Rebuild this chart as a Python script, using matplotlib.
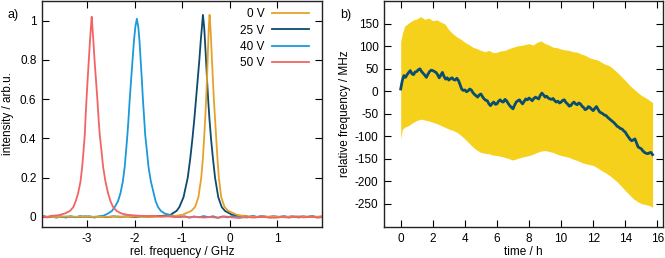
import numpy as np
import matplotlib
matplotlib.use("Agg")
import matplotlib.pyplot as plt
from matplotlib.ticker import FormatStrFormatter

plt.rcParams['font.family'] = ['Liberation Sans', 'DejaVu Sans']
plt.rcParams['font.size'] = 8.5
plt.rcParams['axes.unicode_minus'] = False

# ---- panel a) spectra ----
labels = ["0 V", "25 V", "40 V", "50 V"]
colors = ["#e5a22a", "#0c4a6e", "#1a9ad8", "#f26464"]

x_0V = [-3.95, -3.7, -3.45, -3.2, -2.95, -2.7, -2.45, -2.2, -1.95, -1.7, -1.45, -1.2,
        -1.0, -0.81, -0.73, -0.66, -0.60, -0.565, -0.54, -0.517, -0.497, -0.48, -0.465,
        -0.452, -0.44, -0.425, -0.408, -0.393, -0.375, -0.355, -0.335, -0.31, -0.285,
        -0.26, -0.23, -0.18, -0.11, -0.03, 0.15, 0.3, 0.5, 0.7, 0.9, 1.1, 1.3, 1.5, 1.7, 1.95]
y_0V = [0.002, -0.001, 0.002, 0.0, 0.001, -0.001, 0.001, 0.0, 0.002, -0.001, 0.001, 0.003,
        0.01, 0.03, 0.05, 0.1, 0.2, 0.3, 0.4, 0.5, 0.6, 0.7, 0.8,
        0.9, 0.97, 1.03, 0.97, 0.9, 0.8, 0.7, 0.6, 0.5, 0.4,
        0.3, 0.2, 0.1, 0.05, 0.03, 0.01, 0.004, -0.001, 0.002, 0.0, 0.001, -0.001, 0.002, 0.0, 0.001]

x_25V = [-3.95, -3.8, -3.65, -3.5, -3.35, -3.2, -3.05, -2.9, -2.75, -2.6, -2.45, -2.3, -2.15,
         -2.0, -1.85, -1.7, -1.55, -1.4, -1.25, -1.12, -1.06, -0.973, -0.884, -0.83, -0.785,
         -0.745, -0.71, -0.675, -0.64, -0.61, -0.585, -0.565, -0.54, -0.522, -0.50, -0.478,
         -0.455, -0.428, -0.395, -0.355, -0.31, -0.242, -0.17, -0.10, 0.05, 0.2,
         0.3, 0.4, 0.5, 0.6, 0.7, 0.8, 0.9, 1.0, 1.1, 1.2, 1.3, 1.4, 1.5, 1.6, 1.7, 1.8, 1.95]
y_25V = [0.003, -0.002, 0.002, -0.001, 0.001, -0.002, 0.002, -0.001, 0.001, -0.002, 0.002, 0.0, 0.002,
         -0.001, 0.002, 0.0, 0.003, 0.005, 0.01, 0.03, 0.05, 0.1, 0.2, 0.3, 0.4,
         0.5, 0.6, 0.7, 0.8, 0.9, 0.97, 1.03, 0.97, 0.9, 0.8, 0.7,
         0.6, 0.5, 0.4, 0.3, 0.2, 0.1, 0.05, 0.03, 0.01, 0.004,
         0.005, 0.0, 0.003, -0.002, 0.002, -0.001, 0.002, -0.002, 0.001, -0.001, 0.002, -0.002, 0.001, -0.001, 0.002, -0.001, 0.001]

x_40V = [-3.95, -3.85, -3.75, -3.65, -3.55, -3.45, -3.35, -3.25, -3.15, -3.05, -2.95, -2.85,
         -2.75, -2.65, -2.56, -2.48, -2.42, -2.35, -2.30, -2.25, -2.21, -2.18, -2.153,
         -2.13, -2.106, -2.075, -2.045, -2.015, -1.985, -1.955, -1.925, -1.90, -1.875,
         -1.85, -1.826, -1.80, -1.78, -1.745, -1.71, -1.66, -1.60, -1.56, -1.51, -1.45,
         -1.37, -1.25, -1.15, -1.05, -0.95,
         -0.85, -0.75, -0.65, -0.55, -0.45, -0.35, -0.25, -0.15, -0.05, 0.05, 0.15, 0.25,
         0.35, 0.45, 0.55, 0.65, 0.75, 0.85, 0.95, 1.05, 1.15, 1.25, 1.35, 1.45, 1.55,
         1.65, 1.75, 1.85, 1.95]
y_40V = [0.006, -0.003, 0.004, -0.005, 0.003, -0.004, 0.002, -0.003, 0.004, -0.002, 0.003, -0.004,
         0.002, 0.006, 0.017, 0.03, 0.05, 0.08, 0.12, 0.18, 0.255, 0.34, 0.42,
         0.5, 0.594, 0.7, 0.8, 0.9, 0.97, 1.01, 0.97, 0.9, 0.8,
         0.7, 0.594, 0.5, 0.42, 0.34, 0.255, 0.18, 0.12, 0.08, 0.05, 0.03,
         0.017, 0.009, 0.004, -0.002, 0.003,
         -0.004, 0.002, -0.003, 0.004, -0.002, 0.003, -0.005, 0.002, -0.003, 0.004, -0.002, 0.003,
         -0.004, 0.002, -0.003, 0.004, 0.0, -0.004, 0.003, -0.002, 0.004, -0.003, 0.002, -0.004, 0.003,
         -0.002, 0.004, -0.003, 0.002]

x_50V = [-3.95, -3.85, -3.75, -3.6, -3.47, -3.36, -3.29, -3.24, -3.19, -3.14, -3.105, -3.075,
         -3.05, -3.035, -3.015, -2.99, -2.965, -2.94, -2.92, -2.905, -2.89, -2.87, -2.845,
         -2.815, -2.784, -2.76, -2.736, -2.70, -2.665, -2.615, -2.56, -2.51, -2.455, -2.38,
         -2.28, -2.15, -1.9, -1.75, -1.6, -1.45, -1.3, -1.15, -1.0, -0.85, -0.7, -0.55, -0.4,
         -0.25, -0.1, 0.05, 0.2, 0.35, 0.5, 0.65, 0.8, 0.95, 1.1, 1.25, 1.4, 1.55, 1.7, 1.85, 1.95]
y_50V = [0.004, -0.002, 0.005, 0.008, 0.017, 0.03, 0.05, 0.08, 0.12, 0.18, 0.255, 0.34,
         0.42, 0.5, 0.594, 0.7, 0.8, 0.9, 0.97, 1.02, 0.97, 0.9, 0.8,
         0.7, 0.594, 0.5, 0.42, 0.34, 0.255, 0.18, 0.12, 0.08, 0.05, 0.03,
         0.017, 0.01, 0.005, 0.004, 0.005, 0.001, 0.003, -0.002, 0.001, -0.003, 0.0, -0.004, -0.001,
         -0.005, 0.002, -0.003, -0.006, -0.001, -0.004, 0.001, -0.003, -0.005, -0.001, -0.004, 0.002, -0.003, 0.001, -0.004, -0.001]

# ---- panel b) frequency drift, one value every 0.1 h ----
drift = [5, 24, 35, 31, 37, 42, 46, 39, 37, 43,
         44, 48, 50, 44, 40, 36, 31, 38, 44, 47,
         46, 44, 42, 37, 30, 36, 42, 33, 27, 30,
         25, 28, 30, 26, 25, 29, 24, 15, 5, 2,
         3, -1, 1, 5, 3, -3, -7, -10, -13, -8,
         -6, -12, -17, -20, -21, -28, -32, -27, -24, -29,
         -28, -22, -19, -23, -24, -18, -21, -27, -32, -36,
         -39, -31, -24, -21, -19, -24, -28, -22, -17, -19,
         -15, -18, -21, -16, -13, -15, -17, -9, -4, -8,
         -13, -11, -15, -17, -18, -16, -21, -24, -22, -26,
         -24, -20, -19, -25, -28, -33, -32, -27, -24, -28,
         -30, -26, -28, -33, -36, -41, -39, -34, -36, -40,
         -43, -38, -34, -40, -46, -48, -50, -53, -54, -58,
         -61, -64, -67, -70, -74, -78, -80, -83, -84, -88,
         -91, -97, -102, -107, -110, -108, -106, -115, -124, -126,
         -128, -133, -136, -138, -139, -137, -136, -141]
t_drift = np.arange(len(drift)) * 0.1

t_env = [0, 0.1, 0.25, 0.5, 0.75, 1.0, 1.25, 1.5, 1.75, 2.0, 2.25, 2.5, 2.75, 3.0, 3.25, 3.5,
         3.75, 4.0, 4.25, 4.5, 4.75, 5.0, 5.25, 5.5, 5.75, 6.0, 6.25, 6.5, 6.75, 7.0, 7.25,
         7.5, 7.75, 8.0, 8.25, 8.5, 8.75, 9.0, 9.25, 9.5, 9.75, 10.0, 10.25, 10.5, 10.75,
         11.0, 11.25, 11.5, 11.75, 12.0, 12.25, 12.5, 12.75, 13.0, 13.25, 13.5, 13.75, 14.0,
         14.25, 14.5, 14.75, 15.0, 15.25, 15.5, 15.7]
upper = [110, 128, 145, 152, 158, 161, 166, 160, 163, 157, 159, 154, 150, 137, 128, 121,
         116, 109, 104, 98, 95, 91, 88, 91, 86, 87, 90, 91, 95, 98, 101,
         102, 104, 106, 103, 109, 112, 106, 103, 98, 97, 94, 92, 91, 88,
         87, 83, 80, 75, 72, 70, 65, 60, 57, 50, 42, 33, 24,
         14, 6, -2, -9, -14, -20, -25]
lower = [-106, -85, -80, -76, -70, -65, -62, -64, -66, -69, -72, -76, -80, -84, -87, -91,
         -98, -106, -115, -124, -131, -136, -138, -139, -142, -143, -145, -147, -150, -153, -150,
         -147, -145, -143, -140, -136, -133, -132, -134, -136, -140, -143, -145, -147, -151,
         -154, -158, -161, -163, -165, -170, -176, -181, -187, -194, -202, -211, -221,
         -230, -239, -245, -250, -252, -254, -258]


def style_axes(ax):
    ax.tick_params(direction='in', length=5, width=0.8, top=True, right=True, pad=4,
                   labelsize=8.5)
    for s in ax.spines.values():
        s.set_linewidth(1.0)
        s.set_color('#222222')


fig = plt.figure(figsize=(6.65, 2.58), dpi=100)
ax1 = fig.add_axes([42 / 665, 1 - 227 / 258, 280 / 665, 227 / 258 - 0.002])
ax2 = fig.add_axes([384 / 665, 1 - 227 / 258, 279 / 665, 227 / 258 - 0.002])

curves = [(x_0V, y_0V), (x_25V, y_25V), (x_40V, y_40V), (x_50V, y_50V)]
# 50 V trace drawn last so it sits on top, like the original
for i in [1, 2, 0, 3]:
    ax1.plot(curves[i][0], curves[i][1], color=colors[i], lw=1.3, label=labels[i])
handles, labs = ax1.get_legend_handles_labels()
order = [labs.index(l) for l in labels]
ax1.legend([handles[k] for k in order], labels, loc='upper right',
           bbox_to_anchor=(0.955, 0.965), frameon=False, markerfirst=False,
           handlelength=3.2, handletextpad=0.6, labelspacing=0.35,
           borderpad=0, borderaxespad=0, fontsize=8.5)
ax1.set_xlim(-3.95, 1.94)
ax1.set_ylim(-0.052, 1.103)
ax1.set_xticks([-3, -2, -1, 0, 1])
ax1.set_yticks([0, 0.2, 0.4, 0.6, 0.8, 1])
ax1.xaxis.set_major_formatter(FormatStrFormatter('%g'))
ax1.yaxis.set_major_formatter(FormatStrFormatter('%g'))
ax1.set_xlabel("rel. frequency / GHz", labelpad=1)
ax1.set_ylabel("intensity / arb.u.", labelpad=4)
style_axes(ax1)

ax2.fill_between(t_env, lower, upper, color='#f5d11c', lw=0)
ax2.plot(t_drift, drift, color='#0b4d70', lw=2.0)
ax2.set_xlim(-1.04, 16.35)
ax2.set_ylim(-302, 202)
ax2.set_xticks(range(0, 17, 2))
ax2.set_yticks(range(-250, 151, 50))
ax2.set_xlabel("time / h", labelpad=1)
ax2.set_ylabel("relative frequency / MHz", labelpad=3)
style_axes(ax2)

fig.text(0.012, 0.965, "a)", fontsize=9, va='top')
fig.text(0.512, 0.965, "b)", fontsize=9, va='top')

fig.savefig("out.png", dpi=100)
